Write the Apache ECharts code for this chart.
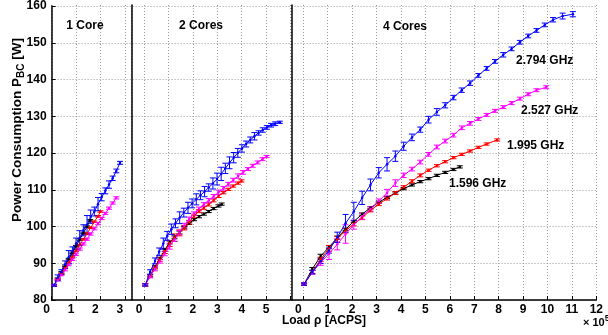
<!DOCTYPE html>
<html><head><meta charset="utf-8">
<script src="https://cdn.jsdelivr.net/npm/echarts@6/dist/echarts.min.js"></script>
<style>html,body{margin:0;padding:0;background:#fff}#c{width:608px;height:335px}</style>
</head><body><div id="c"></div>
<script>
// ---------- data: [load (x1e5 ACPS), power (W), error (W)] ----------
const panelTitles = ['1 Core', '2 Cores', '4 Cores'];
const freqLabels = ['2.794 GHz', '2.527 GHz', '1.995 GHz', '1.596 GHz'];
const yTickLabels = [80, 90, 100, 110, 120, 130, 140, 150, 160];

// 1 Core
const c1_2794 = [[0.10,84.0,0.3],[0.25,86.0,0.8],[0.40,87.6,0.6],[0.55,89.6,1.0],[0.70,91.6,1.8],[0.85,93.2,1.2],[1.00,95.3,1.5],[1.15,96.8,2.0],[1.30,98.9,1.5],[1.45,100.4,2.5],[1.60,102.6,1.8],[1.75,104.0,1.2],[1.90,106.0,1.8],[2.05,107.9,1.0],[2.20,109.6,0.8],[2.35,111.3,1.0],[2.50,113.0,0.6],[2.65,115.0,0.5],[2.80,117.2,0.4]];
const c1_2527 = [[0.10,84.0,0.2],[0.25,85.4,0.2],[0.40,86.8,0.2],[0.55,88.2,0.3],[0.70,89.6,0.3],[0.85,91.0,0.3],[1.00,92.4,0.3],[1.15,93.8,0.3],[1.30,95.2,0.3],[1.45,96.5,0.3],[1.60,97.9,0.3],[1.75,99.3,0.3],[1.90,100.7,0.3],[2.05,102.1,0.3],[2.20,103.5,0.3],[2.35,104.9,0.3],[2.50,106.3,0.3],[2.65,107.7,0.3]];
const c1_1995 = [[0.10,84.0,0.2],[0.25,85.6,0.2],[0.40,87.1,0.2],[0.55,88.7,0.2],[0.70,90.2,0.2],[0.85,91.8,0.2],[1.00,93.4,0.2],[1.15,94.9,0.2],[1.30,96.5,0.2],[1.45,98.0,0.2],[1.60,99.6,0.2],[1.75,101.2,0.2],[1.90,102.7,0.2],[2.00,104.0,0.2]];
const c1_1596 = [[0.10,84.0,0.2],[0.25,85.8,0.2],[0.40,87.5,0.2],[0.55,89.3,0.2],[0.70,91.1,0.2],[0.85,92.8,0.2],[1.00,94.6,0.2],[1.15,96.4,0.2],[1.30,98.2,0.2],[1.45,99.9,0.2],[1.58,101.6,0.2]];

// 2 Cores
const c2_2794 = [[0.05,84.1,0.3],[0.25,87.6,0.6],[0.45,90.6,0.8],[0.62,93.1,1.0],[0.79,95.3,1.5],[0.95,97.4,1.2],[1.12,99.2,1.4],[1.29,100.8,1.2],[1.46,102.3,1.6],[1.63,103.7,1.2],[1.80,105.0,1.5],[1.97,106.2,1.2],[2.14,107.3,1.5],[2.31,108.4,1.2],[2.48,109.4,1.4],[2.65,110.5,1.0],[2.82,111.6,1.5],[2.99,112.8,1.6],[3.16,114.2,1.8],[3.33,115.7,1.4],[3.50,117.2,1.6],[3.67,118.6,1.4],[3.84,119.9,1.2],[4.01,121.1,1.0],[4.18,122.3,0.8],[4.35,123.4,0.8],[4.52,124.4,1.0],[4.69,125.3,0.6],[4.86,126.1,0.6],[5.03,126.8,0.5],[5.20,127.4,0.5],[5.37,127.8,0.5],[5.56,128.2,0.3]];
const c2_2527 = [[0.05,84.1,0.3],[0.25,86.4,0.4],[0.45,88.4,0.5],[0.65,90.5,0.5],[0.85,92.6,0.6],[1.05,94.6,0.8],[1.25,96.5,0.6],[1.45,98.3,0.6],[1.65,100.2,0.6],[1.85,102.0,0.5],[2.05,103.4,0.5],[2.25,104.7,0.5],[2.45,105.9,0.5],[2.65,107.0,0.5],[2.85,108.1,0.5],[3.05,109.2,0.6],[3.25,110.3,0.5],[3.45,111.4,0.5],[3.65,112.5,0.5],[3.85,113.6,0.6],[4.05,114.6,0.5],[4.25,115.5,0.4],[4.45,116.4,0.4],[4.65,117.3,0.4],[4.85,118.2,0.4],[5.02,118.9,0.3]];
const c2_1995 = [[0.05,84.1,0.3],[0.25,86.5,0.3],[0.45,88.8,0.4],[0.65,91.0,0.5],[0.85,93.2,0.6],[1.05,95.3,0.8],[1.25,96.9,1.0],[1.45,98.2,0.8],[1.65,99.6,0.6],[1.85,101.1,0.5],[2.05,102.8,0.5],[2.25,104.1,0.4],[2.45,105.0,0.4],[2.65,105.9,0.4],[2.85,107.0,0.4],[3.05,108.2,0.4],[3.25,109.1,0.3],[3.45,110.0,0.3],[3.65,110.9,0.3],[3.85,111.7,0.3],[3.99,112.3,0.3]];
const c2_1596 = [[0.05,84.1,0.3],[0.25,86.6,0.3],[0.45,89.0,0.3],[0.65,91.3,0.3],[0.85,93.6,0.4],[1.05,95.6,0.4],[1.25,97.0,0.4],[1.45,98.3,0.4],[1.65,99.6,0.3],[1.85,100.8,0.3],[2.05,101.8,0.3],[2.25,102.6,0.3],[2.45,103.3,0.3],[2.65,104.0,0.3],[2.85,104.8,0.3],[3.05,105.5,0.3],[3.18,106.0,0.3]];

// 4 Cores
const c4_2794 = [[0.03,84.3,0.3],[0.37,87.6,0.5],[0.71,90.5,0.6],[1.05,93.4,0.7],[1.39,97.0,1.4],[1.73,100.8,2.4],[2.07,104.0,2.5],[2.41,107.7,1.8],[2.75,111.2,1.6],[3.09,114.5,1.4],[3.43,116.8,1.8],[3.77,119.0,1.4],[4.11,121.7,1.1],[4.45,124.1,0.9],[4.79,126.2,0.7],[5.13,128.9,0.9],[5.47,131.0,0.9],[5.81,132.8,0.7],[6.15,134.9,0.6],[6.49,136.9,0.6],[6.83,138.8,0.6],[7.17,140.9,0.5],[7.51,142.8,0.5],[7.85,144.7,0.5],[8.19,146.5,0.6],[8.53,148.1,0.5],[8.87,149.9,0.5],[9.21,151.6,0.5],[9.55,153.1,0.5],[9.89,154.6,0.5],[10.23,156.0,0.6],[10.62,157.0,0.8],[11.04,157.5,0.7]];
const c4_2527 = [[0.03,84.3,0.3],[0.37,87.5,0.5],[0.71,90.2,0.8],[1.05,92.5,1.5],[1.39,95.1,1.5],[1.73,97.9,2.5],[2.07,100.4,1.2],[2.41,102.7,0.8],[2.75,104.7,0.6],[3.09,106.8,0.6],[3.43,109.1,0.9],[3.77,111.7,0.9],[4.11,113.8,0.6],[4.45,115.5,0.5],[4.79,117.4,0.5],[5.13,119.5,0.5],[5.47,121.5,0.5],[5.81,123.1,0.5],[6.15,124.7,0.5],[6.49,126.7,0.5],[6.83,127.9,0.5],[7.17,129.1,0.4],[7.51,130.2,0.4],[7.85,131.3,0.4],[8.19,132.3,0.4],[8.53,133.4,0.4],[8.87,134.6,0.4],[9.21,135.8,0.4],[9.55,136.9,0.4],[9.95,137.7,0.4]];
const c4_1995 = [[0.03,84.3,0.3],[0.37,87.6,0.4],[0.71,91.0,0.6],[1.05,94.0,0.8],[1.39,96.5,0.8],[1.73,98.8,0.6],[2.07,100.6,0.5],[2.41,102.3,0.5],[2.75,104.3,0.4],[3.09,106.0,0.4],[3.43,107.5,0.4],[3.77,109.0,0.4],[4.11,110.6,0.4],[4.45,112.2,0.4],[4.79,113.8,0.4],[5.13,115.2,0.3],[5.47,116.4,0.3],[5.81,117.5,0.3],[6.15,118.6,0.3],[6.49,119.5,0.3],[6.83,120.4,0.3],[7.17,121.4,0.3],[7.51,122.3,0.3],[7.94,123.4,0.3]];
const c4_1596 = [[0.03,84.3,0.3],[0.37,88.4,0.4],[0.71,91.9,0.5],[1.05,94.3,0.4],[1.39,96.9,0.4],[1.73,99.2,0.3],[2.07,101.3,0.3],[2.41,103.3,0.3],[2.75,105.0,0.3],[3.09,106.5,0.3],[3.43,107.8,0.3],[3.77,109.0,0.3],[4.11,110.2,0.3],[4.45,111.2,0.3],[4.79,112.1,0.3],[5.13,112.9,0.3],[5.47,113.8,0.3],[5.81,114.6,0.3],[6.15,115.4,0.3],[6.41,116.1,0.3]];

// ---------- presentation ----------
const FONT = '"Liberation Sans", Arial, Helvetica, sans-serif';
const COLORS = ['#0000ff', '#ff00ff', '#ff0000', '#000000'];
const panelData = [
  [c1_2794, c1_2527, c1_1995, c1_1596],
  [c2_2794, c2_2527, c2_1995, c2_1596],
  [c4_2794, c4_2527, c4_1995, c4_1596]
];
const TOP = 5, H = 295;
const gridDefs = [
  {left: 51.6, width: 544.7},   // background (y axis, horizontal grid, bottom line)
  {left: 51.6, width: 80.1},    // 1 core: 0 .. 3.28
  {left: 144, width: 147.7},    // 2 cores: 0 .. 6.04
  {left: 303.3, width: 293}     // 4 cores: 0 .. 12
];
const xMax = [1, 3.279, 6.046, 12];
const lbl = {fontFamily: FONT, fontWeight: 'bold', fontSize: 12, color: '#000'};
const dotted = {show: true, lineStyle: {color: '#9a9a9a', width: 1, type: [1, 2]}};

const grid = gridDefs.map(g => ({left: g.left, top: TOP, width: g.width, height: H, containLabel: false}));

const xAxis = [{
  gridIndex: 0, type: 'value', min: 0, max: 1,
  axisLine: {show: true, onZero: false, lineStyle: {color: '#000', width: 1.5}},
  axisTick: {show: false}, axisLabel: {show: false}, splitLine: {show: false}
}];
for (let p = 1; p <= 3; p++) {
  xAxis.push({
    gridIndex: p, type: 'value', min: 0, max: xMax[p], interval: 1,
    axisLine: {show: false, onZero: false},
    axisTick: {show: true, inside: true, length: 4, lineStyle: {color: '#000', width: 1}},
    splitLine: dotted,
    axisLabel: Object.assign({}, lbl, {
      margin: 4, showMaxLabel: p === 3,
      formatter: v => {
        if (p === 2 && v > 5.5) return '';
        if (p === 1 && v > 3.1) return '';
        if (p === 1 || v === 0) return '{s|' + v + '}';
        return String(v);
      },
      rich: {s: Object.assign({}, lbl, {padding: [0, 10, 0, 0]})}
    })
  });
}

const yAxis = [{
  gridIndex: 0, type: 'value', min: yTickLabels[0], max: yTickLabels[yTickLabels.length - 1], interval: 10,
  axisLine: {show: true, onZero: false, lineStyle: {color: '#000', width: 1.5}},
  axisTick: {show: true, inside: true, length: 4, lineStyle: {color: '#000'}},
  axisLabel: Object.assign({}, lbl, {margin: 5}),
  splitLine: dotted
}];
for (let p = 1; p <= 3; p++) {
  yAxis.push({
    gridIndex: p, type: 'value', min: 80, max: 160, position: 'right',
    axisLine: {show: p < 3, onZero: false, lineStyle: {color: '#000', width: 1.5}},
    axisTick: {show: false}, axisLabel: {show: false}, splitLine: {show: false}
  });
}

function errSeries(data, color, idx) {
  return {
    type: 'custom', xAxisIndex: idx, yAxisIndex: idx, data: data, silent: true, clip: false, z: 3,
    encode: {x: 0, y: 1},
    renderItem: (params, api) => {
      const x = api.value(0), y = api.value(1), e = api.value(2);
      const a = api.coord([x, y + e]), b = api.coord([x, y - e]);
      const cap = 3;
      const st = {stroke: color, lineWidth: 1};
      return {type: 'group', children: [
        {type: 'line', shape: {x1: a[0], y1: a[1], x2: b[0], y2: b[1]}, style: st},
        {type: 'line', shape: {x1: a[0] - cap, y1: a[1], x2: a[0] + cap, y2: a[1]}, style: st},
        {type: 'line', shape: {x1: b[0] - cap, y1: b[1], x2: b[0] + cap, y2: b[1]}, style: st}
      ]};
    }
  };
}

const series = [];
for (let p = 0; p < 3; p++) {
  for (let f = 3; f >= 0; f--) {
    const d = panelData[p][f];
    series.push({
      type: 'line', xAxisIndex: p + 1, yAxisIndex: p + 1, silent: true, z: 4,
      data: d.map(r => [r[0], r[1]]),
      symbol: 'circle', symbolSize: 2.5, showSymbol: true,
      lineStyle: {color: COLORS[f], width: 1}, itemStyle: {color: COLORS[f]}
    });
    series.push(errSeries(d, COLORS[f], p + 1));
  }
}

const txt = (text, x, y, align, extra) => ({
  type: 'text', x: x, y: y, z: 100, silent: true,
  style: Object.assign({text: text, fontFamily: FONT, fontWeight: 'bold', fontSize: 12, fill: '#000',
    align: align || 'center', verticalAlign: 'middle'}, extra || {})
});

const graphic = [
  txt(panelTitles[0], 85, 26),
  txt(panelTitles[1], 201, 26),
  txt(panelTitles[2], 405, 27),
  txt(freqLabels[0], 516, 60.5, 'left'),
  txt(freqLabels[1], 521, 110.5, 'left'),
  txt(freqLabels[2], 507, 146, 'left'),
  txt(freqLabels[3], 449, 184, 'left'),
  txt('Load ρ [ACPS]', 324, 321, 'center'),
  txt('{a|× 10}{b|5}', 583, 323, 'left', {rich: {
    a: {fontFamily: FONT, fontWeight: 'bold', fontSize: 11, fill: '#000'},
    b: {fontFamily: FONT, fontWeight: 'bold', fontSize: 9, fill: '#000', padding: [0, 0, 9, 0]}
  }}),
  Object.assign(txt('{a|Power Consumption P}{b|BC}{a| [W]}', 17, 130, 'center', {rich: {
    a: {fontFamily: FONT, fontWeight: 'bold', fontSize: 13.5, fill: '#000', lineHeight: 15},
    b: {fontFamily: FONT, fontWeight: 'bold', fontSize: 10, fill: '#000', padding: [8, 0, 0, 0], lineHeight: 10}
  }}), {rotation: Math.PI / 2})
];

const chart = echarts.init(document.getElementById('c'), null, {renderer: 'canvas'});
chart.setOption({animation: false, backgroundColor: '#fff', grid, xAxis, yAxis, series, graphic});
</script></body></html>
